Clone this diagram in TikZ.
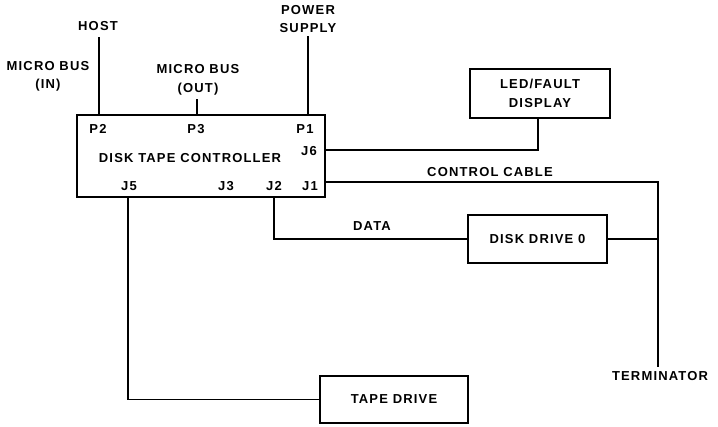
\documentclass[tikz,border=0pt]{standalone}
\usepackage{fontspec}
\setmainfont{Liberation Sans}[LetterSpace=9]
\begin{document}
\begin{tikzpicture}[x=1pt,y=-1pt,
  lbl/.style={font=\bfseries\fontsize{13}{18.5}\selectfont, inner sep=0pt, align=center},
  unit/.style={draw, line width=2.2pt, inner sep=0pt, font=\bfseries\fontsize{13}{18.5}\selectfont, align=center},
  wire/.style={line width=1.2pt}]
\useasboundingbox (0,0) rectangle (718,426);
% boxes
\node[unit, minimum width=248pt, minimum height=82pt] (ctrl) at (201,156) {};
\node[unit, minimum width=140pt, minimum height=49pt] (led) at (540,93.5) {LED/FAULT\\DISPLAY};
\node[unit, minimum width=139pt, minimum height=48pt] (dd) at (537.5,239) {DISK DRIVE 0};
\node[unit, minimum width=148pt, minimum height=47pt] (tape) at (394,399.5) {TAPE DRIVE};
% labels inside controller
\node[lbl] (p2) at (98,129) {P2};
\node[lbl] (p3) at (196,129) {P3};
\node[lbl] (p1) at (305,129) {P1};
\node[lbl] (j6) at (309,151) {J6};
\node[lbl] (title) at (190,158) {DISK TAPE CONTROLLER};
\node[lbl] (j5) at (129,186) {J5};
\node[lbl] (j3) at (226,186) {J3};
\node[lbl] (j2) at (274,186) {J2};
\node[lbl] (j1) at (310,186) {J1};
% outside labels
\node[lbl] (host) at (98,26) {HOST};
\node[lbl] (mbin) at (48,76.5) {MICRO BUS\\(IN)};
\node[lbl] (mbout) at (198,80) {MICRO BUS\\(OUT)};
\node[lbl] (power) at (308,19) {POWER\\SUPPLY};
\node[lbl] (cc) at (490,172) {CONTROL CABLE};
\node[lbl] (data) at (372,226) {DATA};
\node[lbl] (term) at (660,376) {TERMINATOR};
% port coordinates
\coordinate (P2) at (99,115);
\coordinate (P3) at (197,115);
\coordinate (P1) at (308,115);
\coordinate (J6) at (325,150);
\coordinate (J1) at (325,182);
\coordinate (J5) at (128,197);
\coordinate (J2) at (274,197);
\coordinate (Ttop) at (658,367);
\coordinate (Lbot) at (538,118);
\coordinate (Hbot) at (99,37);
\coordinate (Obot) at (197,99);
\coordinate (Sbot) at (308,36);
% connectors
\draw[wire] (P2) -- (Hbot);
\draw[wire] (P3) -- (Obot);
\draw[wire] (P1) -- (Sbot);
\draw[wire] (J6) -| (Lbot);
\draw[wire] (J1) -| (Ttop);
\draw[wire] (dd.east) -- (dd.east -| Ttop);
\draw[wire] (J2) |- (dd.west);
\draw[wire] (J5) |- (tape.west);
\end{tikzpicture}
\end{document}
